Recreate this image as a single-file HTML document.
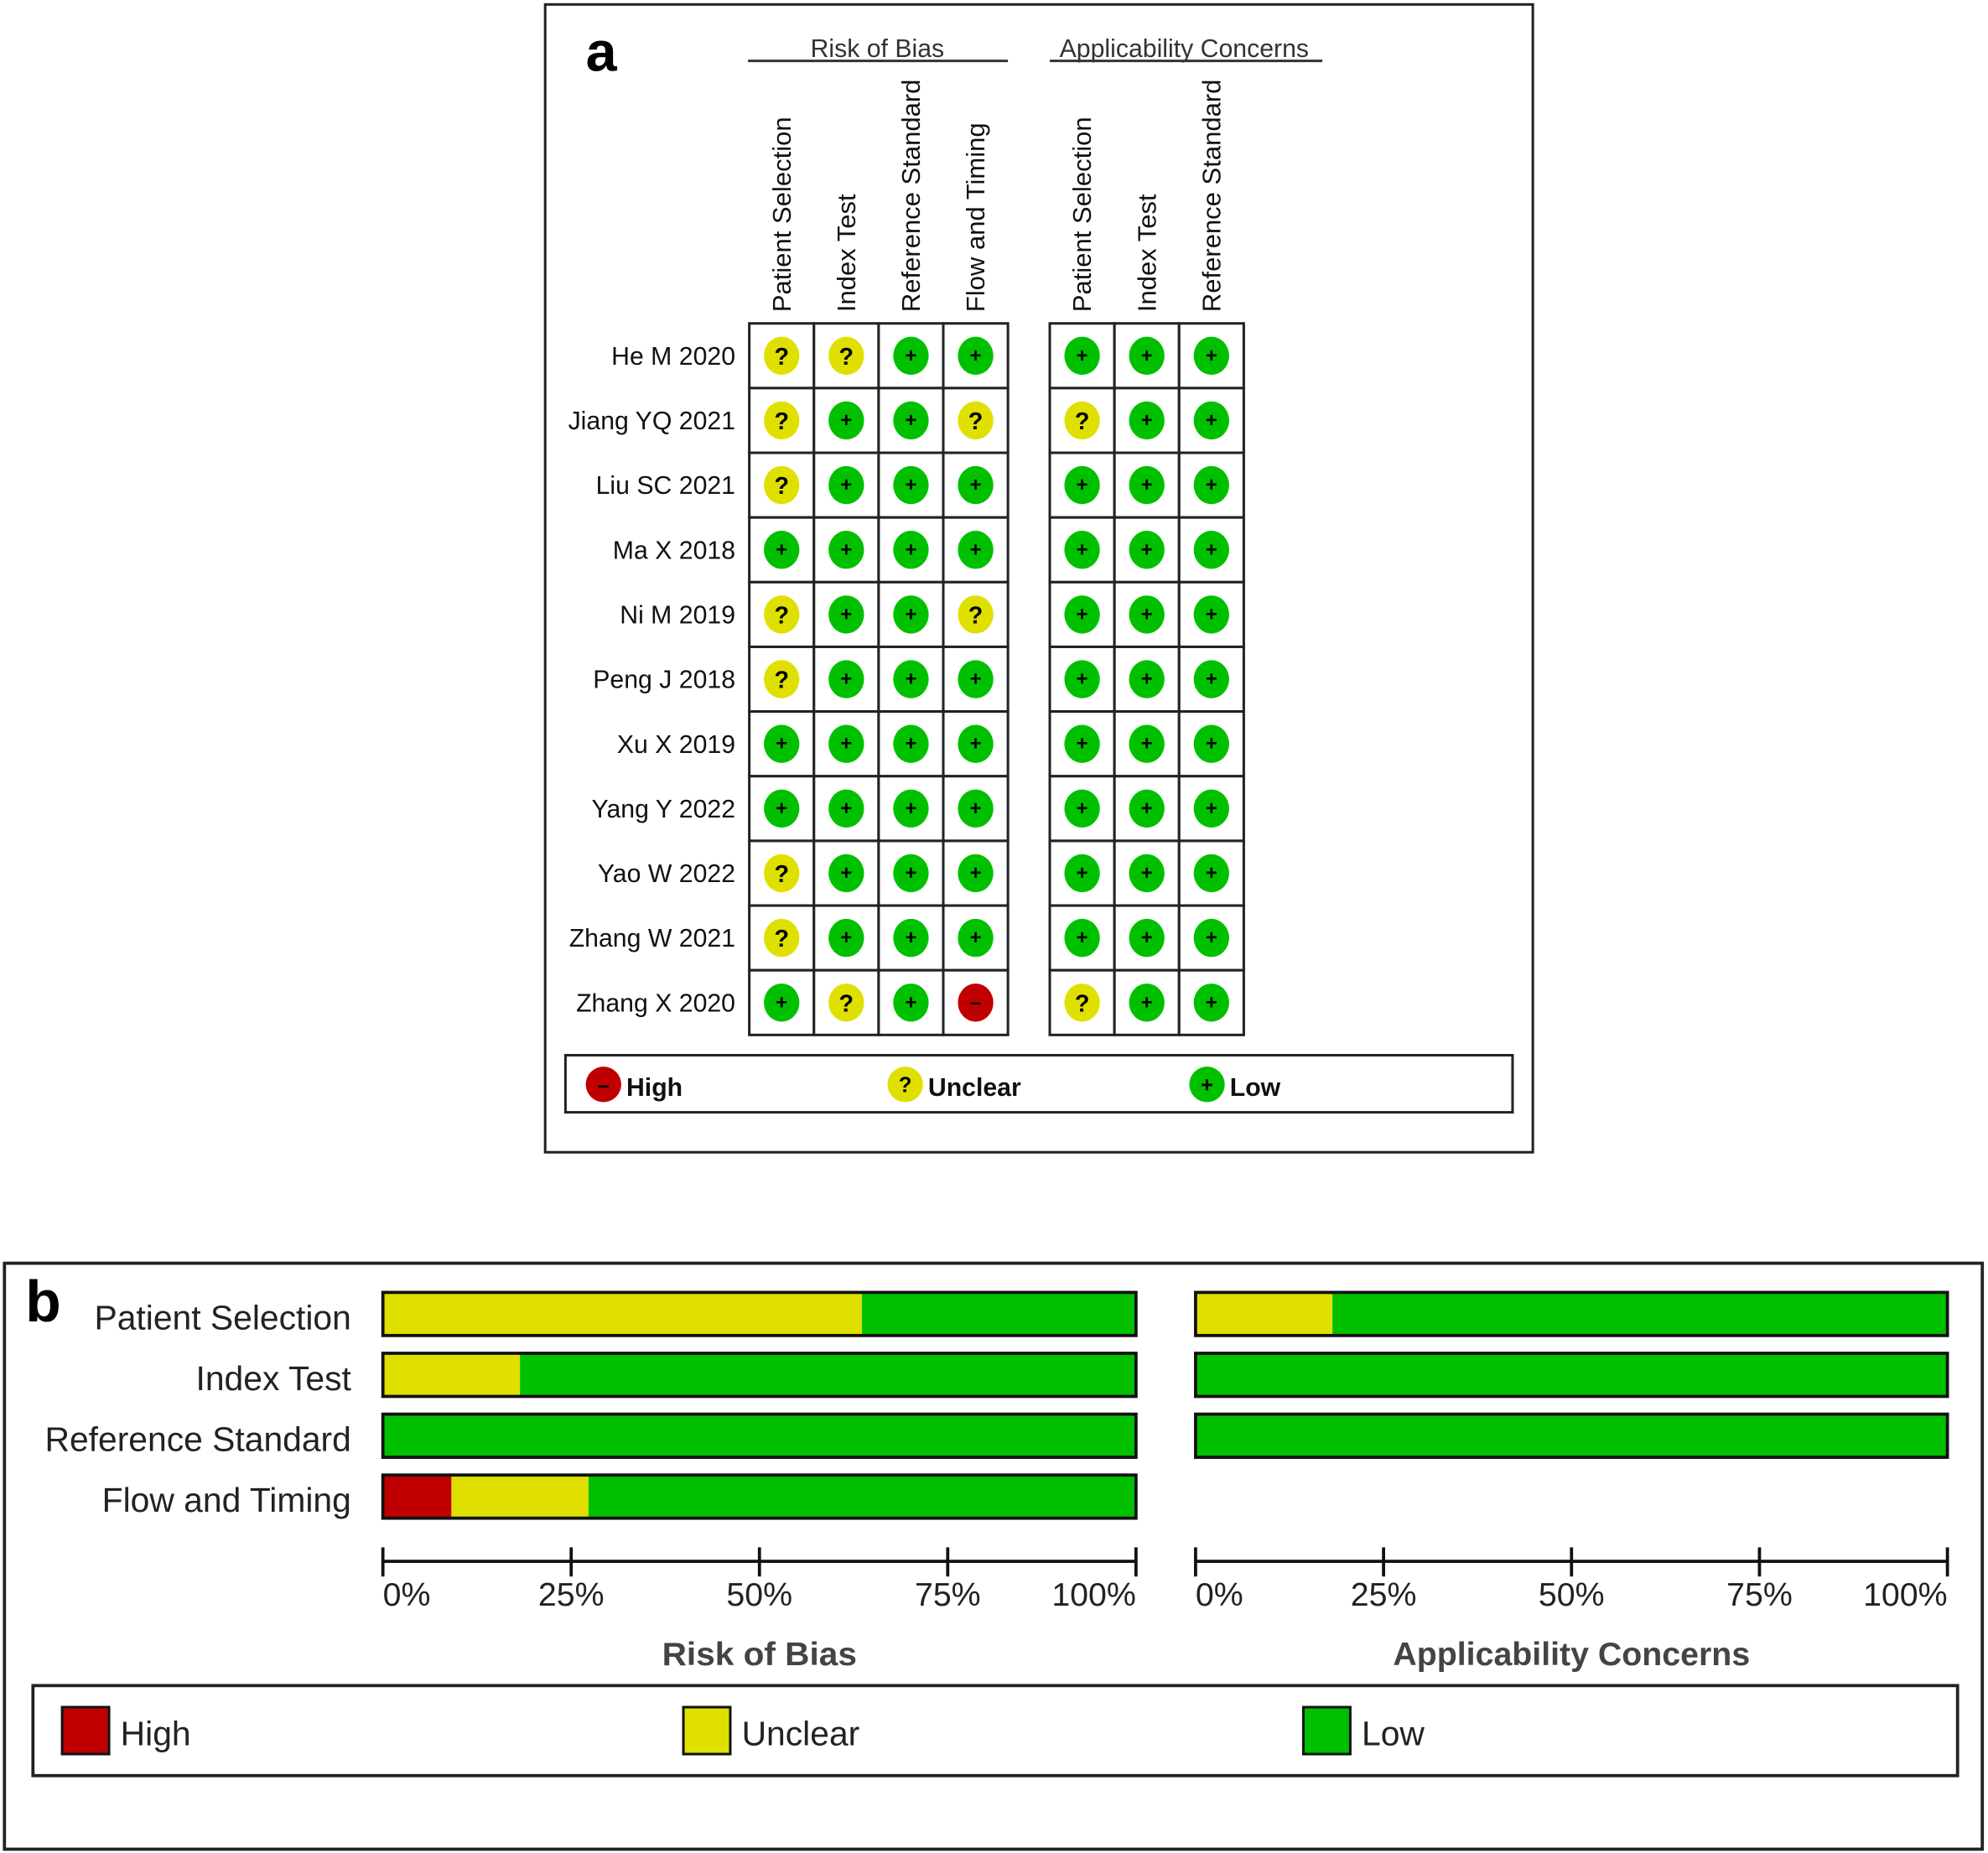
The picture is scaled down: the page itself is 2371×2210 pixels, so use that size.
<!DOCTYPE html>
<html><head><meta charset="utf-8"><style>
html,body{margin:0;padding:0;background:#fff;}
svg{display:block;}
text{font-family:"Liberation Sans",sans-serif;}
</style></head><body>
<svg id="fig" xmlns="http://www.w3.org/2000/svg" width="2371" height="2210" viewBox="0 0 1568 1461" preserveAspectRatio="none">
<rect x="0" y="0" width="1568" height="1461" fill="#fff"/>
<rect x="430" y="3.5" width="779" height="905" fill="none" stroke="#222" stroke-width="2"/>
<text x="462" y="56" font-family="Liberation Serif" font-weight="bold" font-size="44">a</text>
<text x="692" y="45" text-anchor="middle" font-size="20" fill="#333">Risk of Bias</text>
<line x1="590" y1="48" x2="795" y2="48" stroke="#333" stroke-width="2"/>
<text x="934" y="45" text-anchor="middle" font-size="20" fill="#333">Applicability Concerns</text>
<line x1="828" y1="48" x2="1043" y2="48" stroke="#333" stroke-width="2"/>
<g id="tableA"></g>
<rect x="446" y="832" width="747" height="45" fill="none" stroke="#222" stroke-width="2"/>
<g id="legA"></g>
<rect x="3.5" y="996" width="1560" height="462" fill="none" stroke="#222" stroke-width="2.5"/>
<text x="20" y="1042" font-family="Liberation Serif" font-weight="bold" font-size="46">b</text>
<g id="chartB"></g>
<rect x="26" y="1329" width="1518" height="71" fill="none" stroke="#222" stroke-width="2.5"/>
<g id="legB"></g>
</svg>
<script>
const NS="http://www.w3.org/2000/svg";
const studies=["He M 2020","Jiang YQ 2021","Liu SC 2021","Ma X 2018","Ni M 2019","Peng J 2018","Xu X 2019","Yang Y 2022","Yao W 2022","Zhang W 2021","Zhang X 2020"];
const robDomains=["Patient Selection","Index Test","Reference Standard","Flow and Timing"];
const acDomains=["Patient Selection","Index Test","Reference Standard"];
// L=low, U=unclear, H=high
const robJudgements=["UULL","ULLU","ULLL","LLLL","ULLU","ULLL","LLLL","LLLL","ULLL","ULLL","LULH"];
const acJudgements=["LLL","ULL","LLL","LLL","LLL","LLL","LLL","LLL","LLL","LLL","ULL"];
const barCategories=["Patient Selection","Index Test","Reference Standard","Flow and Timing"];
const robHigh=[0,0,0,9.1];
const robUnclear=[63.6,18.2,0,18.2];
const acHigh=[0,0,0];
const acUnclear=[18.2,0,0];
const tickLabels=["0%","25%","50%","75%","100%"];
const tickValues=[0,25,50,75,100];
const COL={H:"#c00000",U:"#e0e000",L:"#00c000"};
const SYM={H:"–",U:"?",L:"+"};
function el(tag,attrs,parent,txt){const e=document.createElementNS(NS,tag);for(const k in attrs)e.setAttribute(k,attrs[k]);if(txt!==undefined)e.textContent=txt;parent.appendChild(e);return e;}
const tA=document.getElementById("tableA");
const cw=51,rh=51,top0=255;
function grid(x0,domains,judg,prefix){
  domains.forEach((d,j)=>{
    const cx=x0+j*cw+cw/2+7;
    const t=el("text",{x:cx,y:246,transform:`rotate(-90 ${cx} 246)`,"font-size":"20.5",fill:"#111"},tA,d);
    
    
  });
  studies.forEach((s,i)=>{
    domains.forEach((d,j)=>{
      const x=x0+j*cw,y=top0+i*rh;
      const r=el("rect",{x:x,y:y,width:cw,height:rh,fill:"#fff",stroke:"#222","stroke-width":"2"},tA);
      
      
      const v=judg[i][j];
      const c=el("ellipse",{cx:x+cw/2,cy:y+rh/2,rx:14,ry:15,fill:COL[v]},tA);
      
      
      const tt=el("text",{x:x+cw/2,y:y+rh/2+(v==="U"?7:5),"text-anchor":"middle","font-size":v==="U"?"19":"16","font-weight":"bold",fill:"#000"},tA,SYM[v]);
      
      
    });
  });
}
studies.forEach((s,i)=>{
  const t=el("text",{x:580,y:top0+i*rh+rh/2+7,"text-anchor":"end","font-size":"20",fill:"#111"},tA,s);
  
  
});
grid(591,robDomains,robJudgements,"rob");
grid(828,acDomains,acJudgements,"ac");
const lA=document.getElementById("legA");
[["H","High",476],["U","Unclear",714],["L","Low",952]].forEach(([k,lab,x])=>{
  const c=el("circle",{cx:x,cy:855,r:14,fill:COL[k]},lA);
  
  
  el("text",{x:x,y:861,"text-anchor":"middle","font-size":"17","font-weight":"bold"},lA,SYM[k]);
  const t=el("text",{x:x+18,y:864,"font-size":"20","font-weight":"bold",fill:"#111"},lA,lab);
  
  
});
const cB=document.getElementById("chartB");
const rowY=[1019,1067,1115,1163],barH=34;
barCategories.forEach((c,i)=>{
  const t=el("text",{x:277,y:rowY[i]+barH/2+12,"text-anchor":"end","font-size":"27",fill:"#222"},cB,c);
  
  
});
function barChart(x0,w,high,unclear,title,prefix){
  const sx=v=>x0+v/100*w;
  high.forEach((h,i)=>{
    const u=unclear[i],y=rowY[i];
    const segs=[["H",0,h],["U",h,h+u],["L",h+u,100]];
    segs.forEach(([k,a,b])=>{
      if(b-a<=0)return;
      const r=el("rect",{x:sx(a),y:y,width:sx(b)-sx(a),height:barH,fill:COL[k]},cB);
      
      
    });
    const o=el("rect",{x:x0,y:y,width:w,height:barH,fill:"none",stroke:"#111","stroke-width":"2.5"},cB);
    
    
  });
  const ax=el("line",{x1:x0,y1:1231,x2:x0+w,y2:1231,stroke:"#111","stroke-width":"2.5"},cB);
  
  
  tickValues.forEach((v,j)=>{
    el("line",{x1:sx(v),y1:1220,x2:sx(v),y2:1243,stroke:"#111","stroke-width":"2.5"},cB);
    const anchor=j===0?"start":(j===tickValues.length-1?"end":"middle");
    const t=el("text",{x:sx(v),y:1266,"text-anchor":anchor,"font-size":"26",fill:"#222"},cB,tickLabels[j]);
    
    
  });
  const tt=el("text",{x:x0+w/2,y:1313,"text-anchor":"middle","font-size":"26","font-weight":"bold",fill:"#444",textLength:title.length*12.8,lengthAdjust:"spacingAndGlyphs"},cB,title);
  
  
}
barChart(302,594,robHigh,robUnclear,"Risk of Bias","rob");
barChart(943,593,acHigh,acUnclear,"Applicability Concerns","ac");
const lB=document.getElementById("legB");
[["H","High",49],["U","Unclear",539],["L","Low",1028]].forEach(([k,lab,x])=>{
  const r=el("rect",{x:x,y:1346,width:37,height:37,fill:COL[k],stroke:"#111","stroke-width":"2"},lB);
  
  
  const t=el("text",{x:x+46,y:1376,"font-size":"27",fill:"#222"},lB,lab);
  
  
});
</script>
</body></html>
